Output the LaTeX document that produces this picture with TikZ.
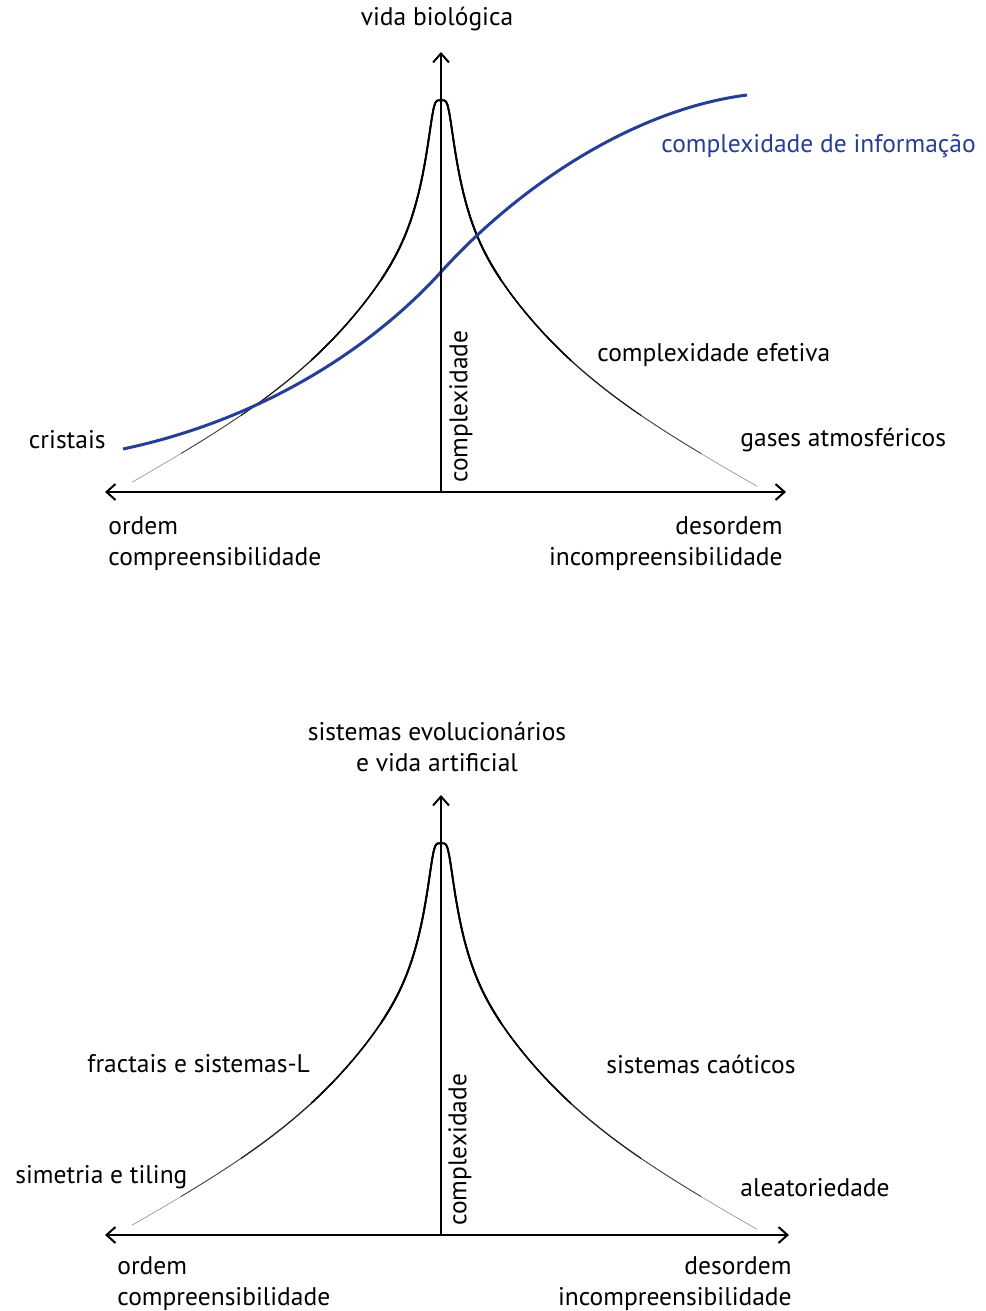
\documentclass[tikz,border=0pt]{standalone}
\usepackage{fontspec}
\setmainfont{PT Sans}
\usetikzlibrary{arrows.meta}
\definecolor{infoblue}{RGB}{38,62,150}

\tikzset{
  axisline/.style={line width=1pt},
  lbl/.style={inner sep=0pt,font=\fontsize{12.75}{15.5}\selectfont},
  vlbl/.style={lbl,rotate=90,anchor=west},
  % height of the cusp above the axis, d = distance from the vertical axis
  declare function={
    pr(\d)=max(\d,8.4)*(1+(min(\d,8.4)/max(\d,8.4))^5)^(1/5);
    ph(\d)=95*ln(519/pr(\d))-4.2*(\d/100)^2+10*exp(-((ln(pr(\d))-4.4)/0.8)^2);
  },
}

% the cusp-shaped complexity curve, in chart coordinates (px, y down)
\newcommand{\drawpeak}[1]{%
  \draw[#1] plot[domain=132:757,samples=401] (\x,{492-ph(abs(\x-441))});}

\begin{document}
\begin{tikzpicture}[x=0.5pt,y=-0.5pt,>={Straight Barb[length=4.5pt,width=8pt]}]
\useasboundingbox (0,0) rectangle (985,1311);

%% ── upper chart: vida biológica ─────────────────────────────────────────────
\begin{scope}
  \coordinate (o1) at (441,492);
  \coordinate (xl1) at (105,492);
  \coordinate (xr1) at (786,492);
  \coordinate (yt1) at (441,52);
  % tapered curve: thin and grey at the tails, full black at the peak
  \foreach \w/\r/\c in {0.3/340/black!45,0.45/260/black!70,0.6/200/black!85,0.8/130/black,1/60/black}{
    \begin{scope}
      \clip (441-\r,0) rectangle (441+\r,500);
      \drawpeak{line width=\w pt,\c}
    \end{scope}
  }
  % information complexity
  \draw[infoblue,line width=1.5pt] (123,449)
    .. controls (260,420) and (370,350) .. (441,272)
    .. controls (515,190) and (630,110) .. (747,95);
  % axes
  \draw[axisline,<->] (xl1) -- (xr1);
  \draw[axisline,->] (o1) -- (yt1);
  % labels
  \node[lbl] (top1) at (437,19) {vida biológica};
  \node[lbl,anchor=west,text=infoblue] (info1) at (661,146) {complexidade de informação};
  \node[lbl,anchor=west] (eff1) at (597,355) {complexidade efetiva};
  \node[lbl,anchor=west] (gas1) at (740,440) {gases atmosféricos};
  \node[lbl,anchor=east] (cri1) at (106,440) {cristais};
  \node[lbl,anchor=west,align=left] (ord1) at (108,544) {ordem\\compreensibilidade};
  \node[lbl,anchor=east,align=right] (des1) at (783,544) {desordem\\incompreensibilidade};
  \node[vlbl] (cx1) at (461,483) {complexidade};
\end{scope}

%% ── lower chart: sistemas evolucionários ────────────────────────────────────
\begin{scope}[shift={(0,743)}]
  \coordinate (o2) at (441,492);
  \coordinate (xl2) at (105,492);
  \coordinate (xr2) at (789,492);
  \coordinate (yt2) at (441,52);
  \foreach \w/\r/\c in {0.3/340/black!45,0.45/260/black!70,0.6/200/black!85,0.8/130/black,1/60/black}{
    \begin{scope}
      \clip (441-\r,0) rectangle (441+\r,500);
      \drawpeak{line width=\w pt,\c}
    \end{scope}
  }
  % axes
  \draw[axisline,<->] (xl2) -- (xr2);
  \draw[axisline,->] (o2) -- (yt2);
  % labels
  \node[lbl,align=center] (top2) at (437,4) {sistemas evolucionários\\e vida artificial};
  \node[lbl,anchor=west] (frac2) at (87,321) {fractais e sistemas-L};
  \node[lbl,anchor=west] (caos2) at (606,321) {sistemas caóticos};
  \node[lbl,anchor=west] (sim2) at (15,434) {simetria e tiling};
  \node[lbl,anchor=west] (alea2) at (740,445) {aleatoriedade};
  \node[lbl,anchor=west,align=left] (ord2) at (117,541) {ordem\\compreensibilidade};
  \node[lbl,anchor=east,align=right] (des2) at (792,541) {desordem\\incompreensibilidade};
  \node[vlbl] (cx2) at (460,483) {complexidade};
\end{scope}

\end{tikzpicture}
\end{document}
